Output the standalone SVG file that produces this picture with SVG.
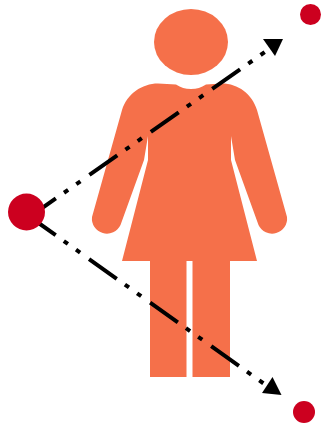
<svg xmlns="http://www.w3.org/2000/svg" width="321" height="427" viewBox="0 0 321 427">
<style>
.fig{fill:#f5704a}
.dot{fill:#cc001f}
.ln{fill:none;stroke:#000;stroke-width:4;stroke-dasharray:34 10 5 10 5 11}
</style>
<rect width="321" height="427" fill="#fff"/>
<g id="person">
<ellipse class="fig" cx="191" cy="42" rx="37" ry="33"/>
<path class="fig" d="M176 84.500C181 87.500 185 89 191 89C197 89 201 87.500 206 84.500L222 83.500C238 83.500 252 94 257 110L287 217A15 15 0 0 1 258.500 225L235 160L231 136L231 160L257 261L230 261L230 377L192.500 377L192.500 261L186.500 261L186.500 377L150 377L150 261L122 261L148 160L148 136L144 160L120.500 225A15 15 0 0 1 92 217L122 110C127 94 142 83.500 158 83.500Z"/>
</g>
<g id="connectors">
<path class="ln" d="M28 218L272 47"/>
<path class="ln" d="M28 215.500L270 388"/>
<polygon points="263,39 283,39 275,56" fill="#000"/>
<polygon points="272.500,377 281.500,395 262,393" fill="#000"/>
</g>
<g id="origin"><circle class="dot" cx="26.500" cy="212" r="18.500"/></g>
<g id="target-top"><circle class="dot" cx="310.500" cy="14.500" r="10.500"/></g>
<g id="target-bottom"><circle class="dot" cx="304" cy="412" r="11"/></g>
</svg>
